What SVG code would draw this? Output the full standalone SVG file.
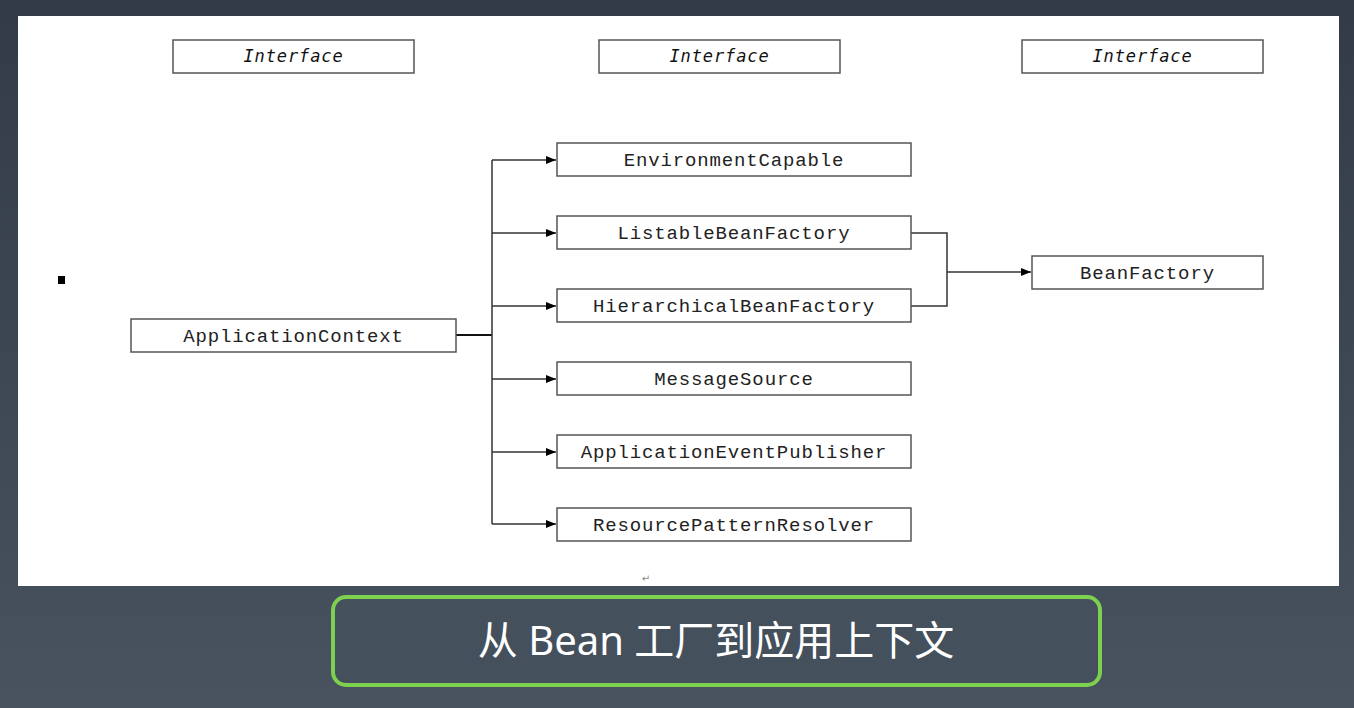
<svg xmlns="http://www.w3.org/2000/svg" width="1354" height="708" viewBox="0 0 1354 708">
<defs>
<linearGradient id="bg" x1="0" y1="0" x2="0" y2="1">
<stop offset="0" stop-color="#323b47"/>
<stop offset="1" stop-color="#48535f"/>
</linearGradient>
<marker id="arr" markerWidth="10" markerHeight="8" refX="10" refY="4" orient="auto" markerUnits="userSpaceOnUse">
<path d="M0,0 L10,4 L0,8 Z" fill="#000"/>
</marker>
<style>
.box{fill:#fff;stroke:#555;stroke-width:1.5}
.lbl{font-family:"Liberation Mono","Courier New",monospace;font-size:19px;letter-spacing:0.85px;fill:#222;text-anchor:middle}
.ifc{font-family:"DejaVu Sans Mono",monospace;font-style:italic;font-size:17px;letter-spacing:0.9px;fill:#111;text-anchor:middle}
.ln{fill:none;stroke:#333;stroke-width:1.5}
</style>
</defs>
<rect width="1354" height="708" fill="url(#bg)"/>
<rect x="18" y="16" width="1321" height="570" fill="#fff"/>
<rect x="58" y="276" width="7" height="8" fill="#000"/>
<text x="646" y="582" font-family="DejaVu Sans" font-size="10" fill="#888" text-anchor="middle">↵</text>

<g id="iface1"><rect class="box" x="173" y="40" width="241" height="33"/><text class="ifc" x="293.5" y="62">Interface</text></g>
<g id="iface2"><rect class="box" x="599" y="40" width="241" height="33"/><text class="ifc" x="719.5" y="62">Interface</text></g>
<g id="iface3"><rect class="box" x="1022" y="40" width="241" height="33"/><text class="ifc" x="1142.5" y="62">Interface</text></g>

<g id="connectors">
<path d="M456,335 H492" fill="none" stroke="#111" stroke-width="2.2"/>
<path class="ln" d="M492,160 V524"/>
<path class="ln" d="M492,160 H556" marker-end="url(#arr)"/>
<path class="ln" d="M492,233 H556" marker-end="url(#arr)"/>
<path class="ln" d="M492,306 H556" marker-end="url(#arr)"/>
<path class="ln" d="M492,379 H556" marker-end="url(#arr)"/>
<path class="ln" d="M492,452 H556" marker-end="url(#arr)"/>
<path class="ln" d="M492,524 H556" marker-end="url(#arr)"/>
<path class="ln" d="M911,233 H947 V306 H911"/>
<path class="ln" d="M947,272 H1031" marker-end="url(#arr)"/>
</g>

<g id="ApplicationContext"><rect class="box" x="131" y="319" width="325" height="33"/><text class="lbl" x="293.5" y="342">ApplicationContext</text></g>
<g id="EnvironmentCapable"><rect class="box" x="557" y="143" width="354" height="33"/><text class="lbl" x="734" y="166">EnvironmentCapable</text></g>
<g id="ListableBeanFactory"><rect class="box" x="557" y="216" width="354" height="33"/><text class="lbl" x="734" y="239">ListableBeanFactory</text></g>
<g id="HierarchicalBeanFactory"><rect class="box" x="557" y="289" width="354" height="33"/><text class="lbl" x="734" y="312">HierarchicalBeanFactory</text></g>
<g id="MessageSource"><rect class="box" x="557" y="362" width="354" height="33"/><text class="lbl" x="734" y="385">MessageSource</text></g>
<g id="ApplicationEventPublisher"><rect class="box" x="557" y="435" width="354" height="33"/><text class="lbl" x="734" y="458">ApplicationEventPublisher</text></g>
<g id="ResourcePatternResolver"><rect class="box" x="557" y="508" width="354" height="33"/><text class="lbl" x="734" y="531">ResourcePatternResolver</text></g>
<g id="BeanFactory"><rect class="box" x="1032" y="256" width="231" height="33"/><text class="lbl" x="1147.5" y="279">BeanFactory</text></g>

<g id="title">
<rect x="333" y="597" width="767" height="88" rx="13" fill="#44505c" stroke="#7ed04f" stroke-width="4"/>
<text x="716" y="655" font-family="'Noto Sans','Noto Sans CJK SC',sans-serif" font-size="40" fill="#fff" text-anchor="middle">从 Bean 工厂到应用上下文</text>
</g>
</svg>
